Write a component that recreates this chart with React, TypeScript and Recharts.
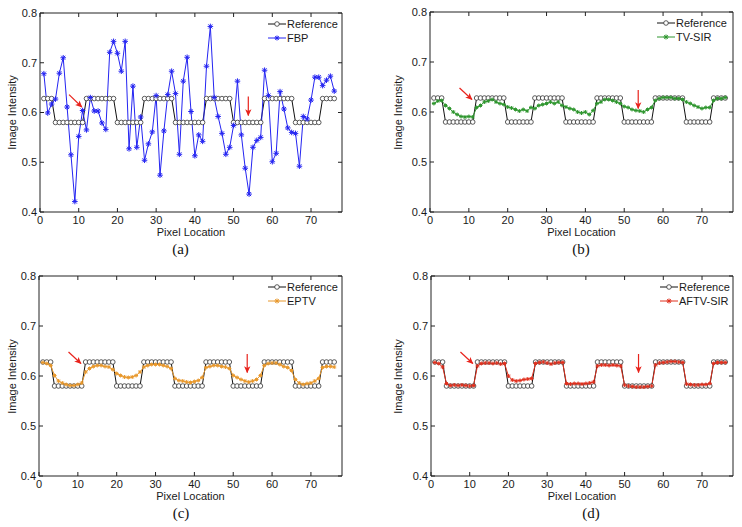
import { LineChart, Line, XAxis, YAxis, ReferenceLine } from "recharts";

const pixelLocation = [
  1, 2, 3, 4, 5, 6, 7, 8, 9, 10, 11, 12, 13, 14, 15, 16, 17, 18, 19, 20,
  21, 22, 23, 24, 25, 26, 27, 28, 29, 30, 31, 32, 33, 34, 35, 36, 37, 38, 39, 40,
  41, 42, 43, 44, 45, 46, 47, 48, 49, 50, 51, 52, 53, 54, 55, 56, 57, 58, 59, 60,
  61, 62, 63, 64, 65, 66, 67, 68, 69, 70, 71, 72, 73, 74, 75, 76,
];

const referenceIntensity = [
  0.628, 0.628, 0.628, 0.58, 0.58, 0.58, 0.58, 0.58, 0.58, 0.58,
  0.58, 0.628, 0.628, 0.628, 0.628, 0.628, 0.628, 0.628, 0.628, 0.58,
  0.58, 0.58, 0.58, 0.58, 0.58, 0.58, 0.628, 0.628, 0.628, 0.628,
  0.628, 0.628, 0.628, 0.628, 0.58, 0.58, 0.58, 0.58, 0.58, 0.58,
  0.58, 0.58, 0.628, 0.628, 0.628, 0.628, 0.628, 0.628, 0.628, 0.58,
  0.58, 0.58, 0.58, 0.58, 0.58, 0.58, 0.58, 0.628, 0.628, 0.628,
  0.628, 0.628, 0.628, 0.628, 0.628, 0.58, 0.58, 0.58, 0.58, 0.58,
  0.58, 0.58, 0.628, 0.628, 0.628, 0.628,
];

const fbpIntensity = [
  0.678, 0.599, 0.617, 0.627, 0.679, 0.71, 0.611, 0.515, 0.421, 0.552,
  0.604, 0.565, 0.63, 0.603, 0.603, 0.579, 0.566, 0.721, 0.743, 0.719,
  0.683, 0.743, 0.527, 0.653, 0.53, 0.591, 0.504, 0.537, 0.561, 0.634,
  0.474, 0.563, 0.636, 0.683, 0.638, 0.516, 0.663, 0.711, 0.602, 0.513,
  0.555, 0.542, 0.693, 0.773, 0.63, 0.592, 0.558, 0.516, 0.53, 0.574,
  0.663, 0.555, 0.488, 0.436, 0.53, 0.544, 0.55, 0.685, 0.634, 0.501,
  0.518, 0.642, 0.607, 0.569, 0.56, 0.558, 0.492, 0.592, 0.587, 0.625,
  0.671, 0.671, 0.654, 0.665, 0.673, 0.643,
];

const tvSirIntensity = [
  0.617, 0.622, 0.623, 0.613, 0.607, 0.6, 0.595, 0.591, 0.59, 0.591,
  0.59, 0.609, 0.613, 0.62, 0.622, 0.625, 0.62, 0.617, 0.615, 0.61,
  0.608, 0.605, 0.602, 0.605, 0.602, 0.609, 0.607, 0.613, 0.615, 0.617,
  0.62, 0.617, 0.62, 0.613, 0.61, 0.607, 0.605, 0.6, 0.598, 0.6,
  0.595, 0.603, 0.617, 0.62, 0.625, 0.625, 0.623, 0.62, 0.617, 0.611,
  0.609, 0.605, 0.603, 0.602, 0.6, 0.605, 0.609, 0.623, 0.627, 0.629,
  0.629, 0.629, 0.627, 0.627, 0.625, 0.62, 0.617, 0.613, 0.61, 0.607,
  0.609, 0.609, 0.623, 0.627, 0.627, 0.629,
];

const eptvIntensity = [
  0.627, 0.625, 0.621, 0.601, 0.59, 0.586, 0.583, 0.581, 0.581, 0.583,
  0.586, 0.608, 0.615, 0.619, 0.621, 0.621, 0.619, 0.618, 0.613, 0.605,
  0.601, 0.598, 0.597, 0.598, 0.601, 0.608, 0.618, 0.621, 0.623, 0.623,
  0.623, 0.621, 0.619, 0.615, 0.595, 0.591, 0.59, 0.588, 0.587, 0.589,
  0.591, 0.597, 0.617, 0.619, 0.621, 0.621, 0.619, 0.618, 0.615, 0.601,
  0.597, 0.593, 0.59, 0.588, 0.59, 0.593, 0.601, 0.621, 0.625, 0.626,
  0.626, 0.623, 0.619, 0.617, 0.611, 0.593, 0.586, 0.583, 0.585, 0.586,
  0.59, 0.595, 0.617, 0.619, 0.619, 0.618,
];

const aftvSirIntensity = [
  0.627, 0.625, 0.618, 0.585, 0.581, 0.582, 0.581, 0.582, 0.581, 0.58,
  0.581, 0.62, 0.625, 0.626, 0.626, 0.625, 0.626, 0.624, 0.625, 0.6,
  0.592, 0.59, 0.591, 0.593, 0.594, 0.595, 0.625, 0.627, 0.628, 0.626,
  0.624, 0.626, 0.627, 0.627, 0.585, 0.584, 0.585, 0.585, 0.584, 0.585,
  0.586, 0.588, 0.62, 0.622, 0.622, 0.621, 0.622, 0.621, 0.62, 0.582,
  0.58, 0.579, 0.578, 0.578, 0.578, 0.579, 0.58, 0.622, 0.626, 0.627,
  0.628, 0.629, 0.629, 0.628, 0.627, 0.584, 0.583, 0.582, 0.582, 0.583,
  0.583, 0.585, 0.625, 0.627, 0.627, 0.627,
];

const xTicks = [0, 10, 20, 30, 40, 50, 60, 70];
const yTicks = [0.4, 0.5, 0.6, 0.7, 0.8];

// red annotation arrows, in data units: [x1, y1, x2, y2]
const slantArrowA = [7.5, 0.636, 10.8, 0.611];
const downArrowA = [53.8, 0.632, 53.8, 0.594];
const slantArrow = [7.6, 0.648, 10.8, 0.625];
const downArrow = [53.6, 0.644, 53.6, 0.607];

const FONT = '"Liberation Sans", Arial, sans-serif';
const AXIS = "#222";

function star(cx: number, cy: number, s: number, color: string, key?: any) {
  const d = s * 0.72;
  return (
    <g key={key} stroke={color} strokeWidth={1}>
      <line x1={cx - s} y1={cy} x2={cx + s} y2={cy} />
      <line x1={cx} y1={cy - s} x2={cx} y2={cy + s} />
      <line x1={cx - d} y1={cy - d} x2={cx + d} y2={cy + d} />
      <line x1={cx - d} y1={cy + d} x2={cx + d} y2={cy - d} />
    </g>
  );
}

type PanelProps = {
  box: [number, number, number, number]; // container left, top, width, height
  plot: [number, number, number, number]; // plot left, top, right, bottom (page)
  name: string;
  values: number[];
  color: string;
  markSize: number;
  letter: string;
  letterX: number;
  yLabelX: number;
  legendX: number;
  slant: number[];
  down: number[];
};

function Panel(p: PanelProps) {
  const [cl, ct, cw, ch] = p.box;
  const [x0, y0, x1, y1] = p.plot;
  const rows = pixelLocation.map((x, i) => ({
    x,
    ref: referenceIntensity[i],
    val: p.values[i],
  }));
  const tickStyle = { fill: "#1a1a1a", fontSize: 11, fontFamily: FONT };
  const arrowShape = (s: any) => (
    <line
      x1={s.x1}
      y1={s.y1}
      x2={s.x2}
      y2={s.y2}
      stroke="#e8231c"
      strokeWidth={1.2}
      markerEnd="url(#redArrow)"
    />
  );
  const midX = (x0 + x1) / 2;
  return (
    <>
      <div style={{ position: "absolute", left: cl, top: ct }}>
        <LineChart
          width={cw}
          height={ch}
          data={rows}
          margin={{
            top: y0 - ct - 1,
            right: cl + cw - x1 - 1,
            bottom: ct + ch - y1 - 20,
            left: 0,
          }}
        >
          <XAxis
            xAxisId="b"
            dataKey="x"
            type="number"
            domain={[0, 78]}
            allowDataOverflow
            ticks={xTicks}
            interval={0}
            height={20}
            tickSize={-4}
            tickMargin={8}
            axisLine={{ stroke: AXIS }}
            tickLine={{ stroke: AXIS }}
            tick={tickStyle}
          />
          <XAxis
            xAxisId="t"
            orientation="top"
            dataKey="x"
            type="number"
            domain={[0, 78]}
            allowDataOverflow
            ticks={xTicks}
            interval={0}
            height={1}
            tickSize={-4}
            axisLine={{ stroke: AXIS }}
            tickLine={{ stroke: AXIS }}
            tickFormatter={() => ""}
          />
          <YAxis
            yAxisId="l"
            type="number"
            domain={[0.4, 0.8]}
            allowDataOverflow
            ticks={yTicks}
            interval={0}
            width={x0 - cl}
            tickSize={-4}
            tickMargin={7}
            axisLine={{ stroke: AXIS }}
            tickLine={{ stroke: AXIS }}
            tick={tickStyle}
            tickFormatter={(v: number) => v.toFixed(1)}
          />
          <YAxis
            yAxisId="r"
            orientation="right"
            type="number"
            domain={[0.4, 0.8]}
            allowDataOverflow
            ticks={yTicks}
            interval={0}
            width={1}
            tickSize={-4}
            axisLine={{ stroke: AXIS }}
            tickLine={{ stroke: AXIS }}
            tickFormatter={() => ""}
          />
          <Line
            xAxisId="b"
            yAxisId="l"
            dataKey="ref"
            type="linear"
            stroke="#111"
            strokeWidth={1}
            dot={{ r: 2.3, fill: "#fff", stroke: "#333", strokeWidth: 0.8 }}
            activeDot={false}
            isAnimationActive={false}
          />
          <Line
            xAxisId="b"
            yAxisId="l"
            dataKey="val"
            type="linear"
            stroke={p.color}
            strokeWidth={1}
            dot={(d: any) => star(d.cx, d.cy, p.markSize, p.color, d.index)}
            activeDot={false}
            isAnimationActive={false}
          />
          <ReferenceLine
            xAxisId="b"
            yAxisId="l"
            segment={[
              { x: p.slant[0], y: p.slant[1] },
              { x: p.slant[2], y: p.slant[3] },
            ]}
            shape={arrowShape}
          />
          <ReferenceLine
            xAxisId="b"
            yAxisId="l"
            segment={[
              { x: p.down[0], y: p.down[1] },
              { x: p.down[2], y: p.down[3] },
            ]}
            shape={arrowShape}
          />
        </LineChart>
      </div>
      <div
        style={{
          position: "absolute",
          left: midX - 60,
          top: y1 + 13.5,
          width: 120,
          textAlign: "center",
          font: `11px ${FONT}`,
          lineHeight: "13px",
          color: "#1a1a1a",
        }}
      >
        Pixel Location
      </div>
      <div
        style={{
          position: "absolute",
          left: p.yLabelX - 60,
          top: (y0 + y1) / 2 - 6.5,
          width: 120,
          height: 13,
          textAlign: "center",
          font: `11px ${FONT}`,
          lineHeight: "13px",
          color: "#1a1a1a",
          transform: "rotate(-90deg)",
        }}
      >
        Image Intensity
      </div>
      <div
        style={{
          position: "absolute",
          left: p.letterX - 20,
          top: y1 + 28.5,
          width: 40,
          textAlign: "center",
          font: '15px "Liberation Serif", "Times New Roman", serif',
          lineHeight: "17px",
          color: "#111",
        }}
      >
        {p.letter}
      </div>
      <div
        style={{
          position: "absolute",
          left: p.legendX,
          top: y0 + 4,
          font: `11px ${FONT}`,
          color: "#1a1a1a",
        }}
      >
        <div style={{ display: "flex", alignItems: "center", height: 14 }}>
          <svg width={18} height={10}>
            <line x1={0} y1={5} x2={18} y2={5} stroke="#111" />
            <circle cx={9} cy={5} r={2.3} fill="#fff" stroke="#333" strokeWidth={0.8} />
          </svg>
          <span style={{ marginLeft: 1, lineHeight: "13px" }}>Reference</span>
        </div>
        <div style={{ display: "flex", alignItems: "center", height: 14 }}>
          <svg width={18} height={10}>
            <line x1={0} y1={5} x2={18} y2={5} stroke={p.color} />
            {star(9, 5, 2.5, p.color)}
          </svg>
          <span style={{ marginLeft: 1, lineHeight: "13px" }}>{p.name}</span>
        </div>
      </div>
    </>
  );
}

export default function App() {
  return (
    <div
      style={{
        position: "absolute",
        left: 0,
        top: 0,
        width: 742,
        height: 527,
        background: "#fff",
        overflow: "hidden",
      }}
    >
      <svg width={0} height={0} style={{ position: "absolute" }}>
        <defs>
          <marker
            id="redArrow"
            viewBox="0 0 10 10"
            refX={9}
            refY={5}
            markerWidth={7}
            markerHeight={7}
            markerUnits="userSpaceOnUse"
            orient="auto"
          >
            <path d="M0,0.5 L10,5 L0,9.5 L2.5,5 Z" fill="#e8231c" />
          </marker>
        </defs>
      </svg>
      <Panel
        box={[0, 0, 371, 264]}
        plot={[40, 13, 342, 212]}
        name="FBP"
        values={fbpIntensity}
        color="#2424f2"
        markSize={2.8}
        letter="(a)"
        letterX={180.5}
        yLabelX={12}
        legendX={268}
        slant={slantArrowA}
        down={downArrowA}
      />
      <Panel
        box={[390, 0, 352, 264]}
        plot={[430, 12, 733, 212]}
        name="TV-SIR"
        values={tvSirIntensity}
        color="#2e962e"
        markSize={2}
        letter="(b)"
        letterX={581}
        yLabelX={398}
        legendX={657}
        slant={slantArrow}
        down={downArrow}
      />
      <Panel
        box={[0, 263, 371, 264]}
        plot={[39, 276, 342, 476]}
        name="EPTV"
        values={eptvIntensity}
        color="#e8982c"
        markSize={2}
        letter="(c)"
        letterX={181}
        yLabelX={12}
        legendX={268}
        slant={slantArrow}
        down={downArrow}
      />
      <Panel
        box={[390, 263, 352, 264]}
        plot={[431, 276, 733, 476]}
        name="AFTV-SIR"
        values={aftvSirIntensity}
        color="#e0301e"
        markSize={2}
        letter="(d)"
        letterX={591}
        yLabelX={398}
        legendX={660}
        slant={slantArrow}
        down={downArrow}
      />
    </div>
  );
}
